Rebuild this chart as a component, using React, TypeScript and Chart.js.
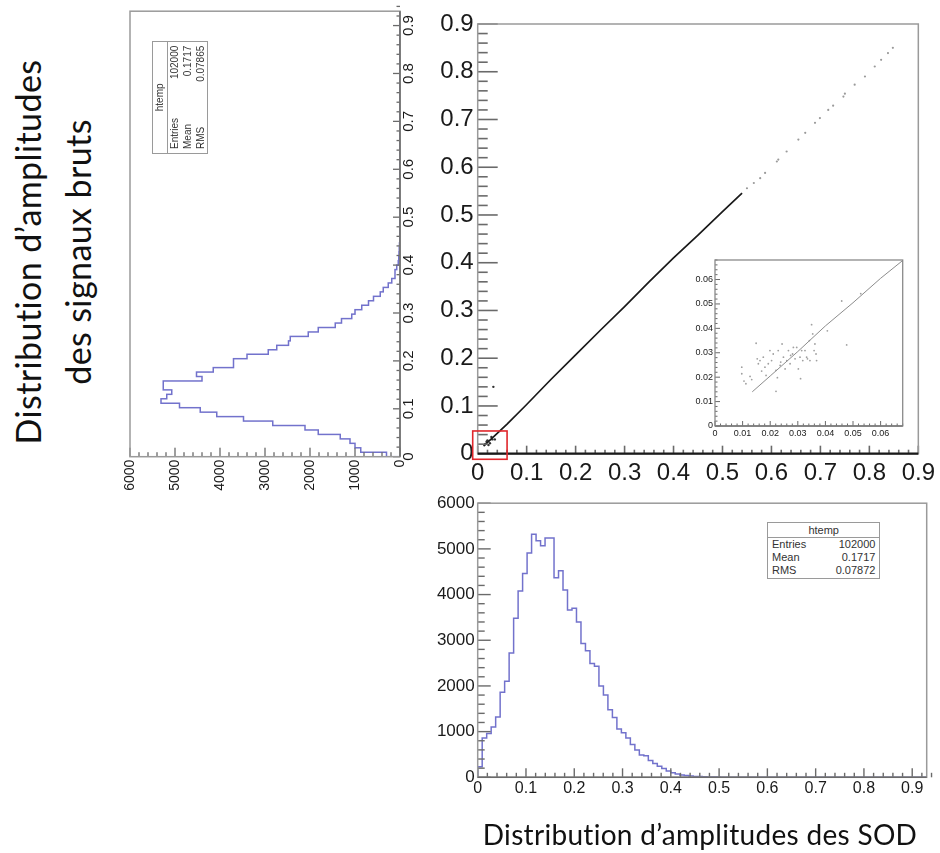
import React, { useEffect, useRef } from 'react';
import { Chart, registerables } from 'chart.js';

Chart.register(...registerables);

const FONT = '"Liberation Sans", Arial, sans-serif';
const TITLE_FONT = 'Lato, "Open Sans", sans-serif';
const BIN_WIDTH = 0.0093;

// Bottom histogram: SOD amplitudes (100 bins over 0 - 0.93)
const sodCounts = [
  210, 230, 860, 960, 1100, 1320, 1860, 2100, 2720, 3480,
  4080, 4460, 4910, 5320, 5180, 5070, 5240, 5240, 4370, 4520,
  4100, 3660, 3700, 3400, 2930, 2770, 2490, 2430, 2000, 1800,
  1480, 1310, 1060, 975, 860, 720, 600, 490, 470, 370,
  300, 240, 190, 140, 100, 70, 50, 38, 28, 20,
  15, 11, 8, 6, 4, 3, 3, 2, 1, 1,
  1, 0, 1, 0, 0, 0, 0, 0, 0, 0,
  0, 0, 0, 0, 0, 0, 0, 0, 0, 0,
  0, 0, 0, 0, 0, 0, 0, 0, 0, 0,
  0, 0, 0, 0, 0, 0, 0, 0, 0, 0,
];

// Left (rotated) histogram: raw signal amplitudes
const rawCounts = [
  30, 300, 870, 1000, 1110, 1330, 1815, 2110, 2830, 3480,
  4070, 4440, 4900, 5310, 5185, 5070, 5260, 5260, 4400, 4520,
  4150, 3700, 3700, 3400, 2930, 2740, 2480, 2440, 2040, 1815,
  1440, 1300, 1070, 1000, 850, 700, 590, 440, 370, 260,
  185, 110, 110, 74, 38, 30, 20, 15, 10, 8,
  6, 5, 4, 3, 2, 2, 1, 1, 1, 0,
  0, 0, 0, 0, 0, 0, 0, 0, 0, 0,
  0, 0, 0, 0, 0, 0, 0, 0, 0, 0,
  0, 0, 0, 0, 0, 0, 0, 0, 0, 0,
  0, 0, 0, 0, 0, 0, 0, 0, 0, 0,
];

const statLabels = ['Entries', 'Mean', 'RMS'];
const sodStatValues = ['102000', '0.1717', '0.07872'];
const rawStatValues = ['102000', '0.1717', '0.07865'];

// Main scatter (SOD vs raw)
const mainLineX = [0.012, 0.03, 0.06, 0.1, 0.15, 0.2, 0.25, 0.3, 0.35, 0.4, 0.45, 0.5, 0.54];
const mainLineY = [0.016, 0.033, 0.062, 0.103, 0.156, 0.207, 0.258, 0.308, 0.36, 0.41, 0.458, 0.507, 0.546];
const mainClusterX = [0.015, 0.02, 0.025, 0.03, 0.018, 0.035, 0.028, 0.022, 0.032];
const mainClusterY = [0.02, 0.028, 0.022, 0.03, 0.025, 0.03, 0.035, 0.018, 0.14];
const mainSparseX = [0.55, 0.564, 0.577, 0.587, 0.611, 0.614, 0.631, 0.655, 0.669, 0.689, 0.699, 0.716, 0.726, 0.747, 0.75, 0.77, 0.791, 0.811, 0.824, 0.838, 0.848];
const mainSparseY = [0.556, 0.567, 0.577, 0.588, 0.612, 0.616, 0.633, 0.658, 0.672, 0.693, 0.703, 0.72, 0.729, 0.748, 0.754, 0.773, 0.79, 0.811, 0.825, 0.839, 0.85];
const redBox = [-0.0102, 0.06, -0.0117, 0.0476];

// Inset (zoom on low amplitudes)
const insetLineX = [0.0135, 0.02, 0.03, 0.04, 0.05, 0.06, 0.068];
const insetLineY = [0.014, 0.0205, 0.0305, 0.041, 0.0505, 0.0605, 0.0678];
const insetPtsX = [0.0097, 0.0097, 0.0105, 0.0112, 0.0127, 0.0133, 0.0149, 0.0153, 0.0157, 0.0163, 0.0169, 0.0175, 0.0181, 0.0185, 0.0193, 0.0199, 0.0205, 0.0211, 0.0221, 0.0226, 0.0229, 0.0236, 0.0238, 0.0243, 0.0248, 0.0254, 0.026, 0.0266, 0.0272, 0.0274, 0.0281, 0.0284, 0.029, 0.0296, 0.0302, 0.0308, 0.031, 0.0314, 0.0318, 0.0326, 0.0332, 0.0335, 0.0342, 0.0344, 0.035, 0.0354, 0.0359, 0.0362, 0.0366, 0.0368, 0.0407, 0.0459, 0.0477, 0.0528, 0.0221];
const insetPtsY = [0.0241, 0.0214, 0.0184, 0.0173, 0.0203, 0.019, 0.0339, 0.0275, 0.0255, 0.0268, 0.0225, 0.0282, 0.0241, 0.0207, 0.0255, 0.0309, 0.0268, 0.0295, 0.0228, 0.0198, 0.0309, 0.0248, 0.0262, 0.0336, 0.0282, 0.0234, 0.0268, 0.0309, 0.0255, 0.0289, 0.0295, 0.0322, 0.0275, 0.0322, 0.0234, 0.0282, 0.0194, 0.0309, 0.0268, 0.0309, 0.0282, 0.0275, 0.035, 0.0268, 0.0415, 0.0377, 0.0309, 0.0336, 0.0295, 0.0268, 0.039, 0.0512, 0.0332, 0.0542, 0.0142];

const zip = (xs: number[], ys: number[]) => xs.map((x, i) => ({ x, y: ys[i] }));

const histPoints = (counts: number[]) => {
  const pts = [{ x: 0, y: 0 }];
  counts.forEach((c, i) => pts.push({ x: i * BIN_WIDTH, y: c }));
  pts.push({ x: counts.length * BIN_WIDTH, y: 0 });
  return pts;
};

const fmt = (v: any) => {
  const n = Number(v);
  if (Math.abs(n) < 1e-9) return '0';
  return String(parseFloat(n.toFixed(3)));
};
const fmtInt = (v: any) => String(Math.round(Number(v)));

const framePlugin = {
  id: 'rootFrame',
  beforeDatasetsDraw(chart: any, _a: any, o: any) {
    if (!o || !o.fillArea) return;
    const a = chart.chartArea;
    const ctx = chart.ctx;
    ctx.save();
    ctx.fillStyle = '#ffffff';
    ctx.fillRect(a.left, a.top, a.right - a.left, a.bottom - a.top);
    ctx.restore();
  },
  afterDraw(chart: any, _a: any, o: any) {
    const { ctx, chartArea: a, scales } = chart;
    ctx.save();
    ctx.strokeStyle = o.tickColor;
    ctx.lineWidth = o.tickWidth;
    const tickSet = (scale: any, spec: any, horizontal: boolean) => {
      const n = Math.round((scale.max - scale.min) / spec.minor + 1e-6);
      for (let k = 0; k <= n; k++) {
        const v = scale.min + k * spec.minor;
        const r = v / spec.major;
        const isMajor = Math.abs(r - Math.round(r)) < 1e-4;
        const len = isMajor ? spec.majorLen : spec.minorLen;
        const p = scale.getPixelForValue(v);
        ctx.beginPath();
        if (horizontal) {
          ctx.moveTo(p, a.bottom);
          ctx.lineTo(p, a.bottom - len);
        } else {
          ctx.moveTo(a.left, p);
          ctx.lineTo(a.left + len, p);
        }
        ctx.stroke();
      }
    };
    tickSet(scales.x, o.x, true);
    tickSet(scales.y, o.y, false);
    ctx.strokeStyle = o.frameColor;
    ctx.lineWidth = o.frameWidth;
    ctx.strokeRect(a.left, a.top, a.right - a.left, a.bottom - a.top);
    ctx.strokeStyle = o.axisColor;
    ctx.lineWidth = o.axisWidth;
    ctx.beginPath();
    ctx.moveTo(a.left, a.bottom);
    ctx.lineTo(a.right, a.bottom);
    ctx.stroke();
    ctx.restore();
  },
};

const redBoxPlugin = {
  id: 'redBox',
  afterDraw(chart: any) {
    const { ctx, scales } = chart;
    const x1 = scales.x.getPixelForValue(redBox[0]);
    const x2 = scales.x.getPixelForValue(redBox[1]);
    const y1 = scales.y.getPixelForValue(redBox[3]);
    const y2 = scales.y.getPixelForValue(redBox[2]);
    ctx.save();
    ctx.strokeStyle = '#e0262b';
    ctx.lineWidth = 1.6;
    ctx.strokeRect(x1, y1, x2 - x1, y2 - y1);
    ctx.restore();
  },
};

function axis(min: number, max: number, step: number, size: number, padding: number, callback: any, fit: (s: any) => void, extra: any = {}) {
  return {
    type: 'linear',
    min,
    max,
    grid: { display: false, drawTicks: false },
    border: { display: false },
    ticks: {
      stepSize: step,
      autoSkip: false,
      includeBounds: false,
      maxRotation: 0,
      minRotation: 0,
      font: { family: FONT, size },
      color: '#1a1a1a',
      padding,
      callback,
      ...extra,
    },
    afterFit: fit,
  };
}

function useChart(build: (c: HTMLCanvasElement) => Chart) {
  const ref = useRef<HTMLCanvasElement>(null);
  useEffect(() => {
    if (!ref.current) return;
    const ch = build(ref.current);
    return () => ch.destroy();
  }, []);
  return ref;
}

const HIST_COLOR = '#7272cc';

function StatsBox({ values, style, fontSize }: { values: string[]; style: any; fontSize: number }) {
  return (
    <div
      style={{
        position: 'absolute',
        boxSizing: 'border-box',
        border: '1.5px solid #9a9a9a',
        background: '#fff',
        fontFamily: FONT,
        fontSize,
        color: '#333',
        ...style,
      }}
    >
      <div style={{ height: 14, lineHeight: '14px', textAlign: 'center', borderBottom: '1.5px solid #9a9a9a' }}>htemp</div>
      {statLabels.map((l, i) => (
        <div key={l} style={{ display: 'flex', justifyContent: 'space-between', padding: '0 4px 0 4px', lineHeight: '13px', height: 13 }}>
          <span>{l}</span>
          <span>{values[i]}</span>
        </div>
      ))}
    </div>
  );
}

export default function App() {
  const mainRef = useChart((c) =>
    new Chart(c, {
      type: 'scatter',
      data: {
        datasets: [
          { data: zip(mainLineX, mainLineY), showLine: true, borderColor: '#1a1a1a', borderWidth: 1.7, pointRadius: 0 },
          { data: zip(mainClusterX, mainClusterY), pointRadius: 1.2, backgroundColor: '#333', borderWidth: 0 },
          { data: zip(mainSparseX, mainSparseY), pointRadius: 1.1, backgroundColor: '#9a9a9a', borderWidth: 0 },
        ],
      } as any,
      options: {
        animation: false,
        responsive: false,
        layout: { padding: { left: 0, top: 19, right: 19.3, bottom: 0 } },
        plugins: {
          legend: { display: false },
          tooltip: { enabled: false },
          rootFrame: {
            tickColor: '#6a6a6a', tickWidth: 1.6, frameColor: '#9a9a9a', frameWidth: 1.5,
            axisColor: '#1a1a1a', axisWidth: 2.2,
            x: { major: 0.1, minor: 0.02, majorLen: 8, minorLen: 4 },
            y: { major: 0.1, minor: 0.02, majorLen: 20, minorLen: 10 },
          },
        } as any,
        scales: {
          x: axis(0, 0.9, 0.1, 24, 5, fmt, (s) => { s.height = 36.3; }),
          y: axis(0, 0.9, 0.1, 24, 4, fmt, (s) => { s.width = 57.7; }),
        } as any,
      },
      plugins: [framePlugin, redBoxPlugin],
    })
  );

  const insetRef = useChart((c) =>
    new Chart(c, {
      type: 'scatter',
      data: {
        datasets: [
          { data: zip(insetLineX, insetLineY), showLine: true, borderColor: '#8c8c8c', borderWidth: 1, pointRadius: 0 },
          { data: zip(insetPtsX, insetPtsY), pointRadius: 0.9, backgroundColor: '#a0a0a0', borderWidth: 0 },
        ],
      } as any,
      options: {
        animation: false,
        responsive: false,
        layout: { padding: { left: 0, top: 10, right: 7.3, bottom: 0 } },
        plugins: {
          legend: { display: false },
          tooltip: { enabled: false },
          rootFrame: {
            fillArea: true,
            tickColor: '#6a6a6a', tickWidth: 1, frameColor: '#8a8a8a', frameWidth: 1.3,
            axisColor: '#777', axisWidth: 1.3,
            x: { major: 0.01, minor: 0.002, majorLen: 5, minorLen: 2.5 },
            y: { major: 0.01, minor: 0.002, majorLen: 5, minorLen: 2.5 },
          },
        } as any,
        scales: {
          x: axis(0, 0.068, 0.01, 9, 2, fmt, (s) => { s.height = 19; }),
          y: axis(0, 0.068, 0.01, 9, 2, fmt, (s) => { s.width = 35; }),
        } as any,
      },
      plugins: [framePlugin],
    })
  );

  const bottomRef = useChart((c) =>
    new Chart(c, {
      type: 'line',
      data: {
        datasets: [
          { data: histPoints(sodCounts), stepped: 'after', borderColor: HIST_COLOR, borderWidth: 1.5, pointRadius: 0, fill: false },
        ],
      } as any,
      options: {
        animation: false,
        responsive: false,
        layout: { padding: { left: 0, top: 10, right: 13.3, bottom: 0 } },
        plugins: {
          legend: { display: false },
          tooltip: { enabled: false },
          rootFrame: {
            tickColor: '#6a6a6a', tickWidth: 1.4, frameColor: '#9a9a9a', frameWidth: 1.5,
            axisColor: '#6a6a6a', axisWidth: 1.5,
            x: { major: 0.1, minor: 0.02, majorLen: 9, minorLen: 4.5 },
            y: { major: 1000, minor: 200, majorLen: 13, minorLen: 7 },
          },
        } as any,
        scales: {
          x: axis(0, 0.93, 0.1, 16, 2, fmt, (s) => { s.height = 32.7; }),
          y: axis(0, 6000, 1000, 17, 3, fmtInt, (s) => { s.width = 57.7; }),
        } as any,
      },
      plugins: [framePlugin],
    })
  );

  const leftRef = useChart((c) =>
    new Chart(c, {
      type: 'line',
      data: {
        datasets: [
          { data: histPoints(rawCounts), stepped: 'after', borderColor: HIST_COLOR, borderWidth: 1.5, pointRadius: 0, fill: false },
        ],
      } as any,
      options: {
        animation: false,
        responsive: false,
        layout: { padding: { left: 0, top: 25, right: 6.2, bottom: 0 } },
        plugins: {
          legend: { display: false },
          tooltip: { enabled: false },
          rootFrame: {
            tickColor: '#6a6a6a', tickWidth: 1.3, frameColor: '#9a9a9a', frameWidth: 1.5,
            axisColor: '#6a6a6a', axisWidth: 1.5,
            x: { major: 0.1, minor: 0.02, majorLen: 7, minorLen: 3.5 },
            y: { major: 1000, minor: 200, majorLen: 9, minorLen: 4.5 },
          },
        } as any,
        scales: {
          x: axis(0, 0.93, 0.1, 15, 0, fmt, (s) => { s.height = 35; }),
          y: axis(0, 6000, 1000, 14, 3, fmtInt, (s) => { s.width = 63.3; }),
        } as any,
      },
      plugins: [framePlugin],
    })
  );

  return (
    <div style={{ position: 'absolute', left: 0, top: 0, width: 940, height: 853, background: '#fff', overflow: 'hidden' }}>
      {/* left vertical title */}
      <div
        style={{
          position: 'absolute',
          left: -175,
          top: 200,
          width: 460,
          height: 104,
          transform: 'rotate(-90deg)',
          textAlign: 'center',
          fontFamily: TITLE_FONT,
          fontSize: 34,
          letterSpacing: '0.4px',
          lineHeight: '50px',
          color: '#111',
          whiteSpace: 'nowrap',
        }}
      >
        <div>Distribution d’amplitudes</div>
        <div>des signaux bruts</div>
      </div>

      {/* left rotated histogram */}
      <div
        style={{
          position: 'absolute',
          left: 105,
          top: 520,
          width: 515,
          height: 330,
          transformOrigin: '0 0',
          transform: 'rotate(-90deg)',
        }}
      >
        <canvas ref={leftRef} width={515} height={330} style={{ position: 'absolute', left: 0, top: 0 }} />
        <StatsBox values={rawStatValues} fontSize={10} style={{ left: 366, top: 47.3, width: 113.3, height: 55.4 }} />
      </div>

      {/* main scatter */}
      <canvas ref={mainRef} width={520} height={485} style={{ position: 'absolute', left: 420, top: 5 }} />
      {/* inset */}
      <canvas ref={insetRef} width={230} height={195} style={{ position: 'absolute', left: 680, top: 250 }} />

      {/* bottom histogram */}
      <canvas ref={bottomRef} width={520} height={320} style={{ position: 'absolute', left: 420, top: 490 }} />
      <StatsBox values={sodStatValues} fontSize={11} style={{ left: 767, top: 522, width: 113.4, height: 56.6 }} />

      {/* bottom title */}
      <div
        style={{
          position: 'absolute',
          left: 460,
          top: 817,
          width: 480,
          textAlign: 'center',
          fontFamily: TITLE_FONT,
          fontSize: 28,
          letterSpacing: '0.3px',
          lineHeight: '34px',
          color: '#111',
          whiteSpace: 'nowrap',
        }}
      >
        Distribution d’amplitudes des SOD
      </div>
    </div>
  );
}
